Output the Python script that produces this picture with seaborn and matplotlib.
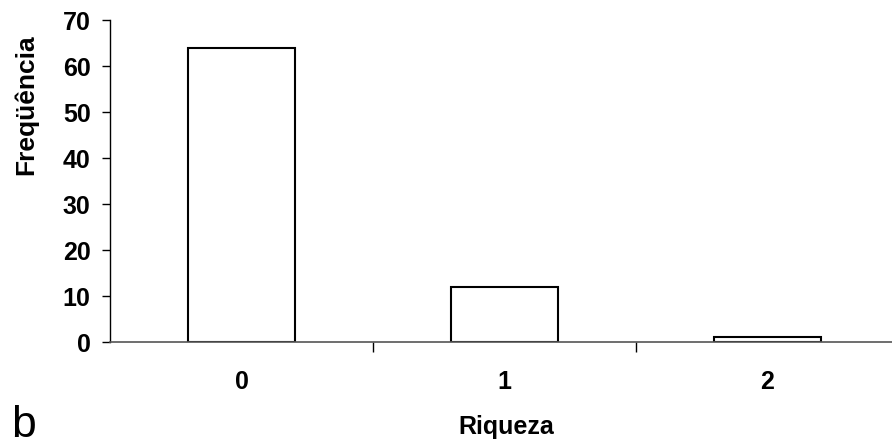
import numpy as np
import pandas as pd
import matplotlib
matplotlib.use("Agg")
import matplotlib.pyplot as plt
import seaborn as sns

# Data
categorias = ["0", "1", "2"]
frequencias = [64, 12, 1]

df = pd.DataFrame({"Riqueza": categorias, "Freq": frequencias})

sns.set_style("white")
plt.rcParams["font.family"] = ["Liberation Sans", "DejaVu Sans"]
plt.rcParams["text.color"] = "black"
plt.rcParams["xtick.color"] = "black"
plt.rcParams["ytick.color"] = "black"

fig = plt.figure(figsize=(8.92, 4.46), dpi=100)
ax = fig.add_axes([110 / 892, 1 - 342 / 446, 789 / 892, 322 / 446])

sns.barplot(data=df, x="Riqueza", y="Freq", order=categorias, color="white",
            edgecolor="black", linewidth=1.5, width=0.41, ax=ax)

ax.set_xlim(-0.5, 2.5)
ax.set_ylim(0, 70)
ax.set_yticks(np.arange(0, 71, 10))

# Excel style: ticks between categories
ax.set_xticks([0.5, 1.5], minor=True)
ax.tick_params(axis="x", which="major", length=0, pad=20, labelsize=18)
ax.tick_params(axis="x", which="minor", length=7, width=1, direction="out", bottom=True)
ax.tick_params(axis="y", length=6, width=1, direction="out", left=True, pad=8, labelsize=18)
for lab in ax.get_xticklabels() + ax.get_yticklabels():
    lab.set_fontweight("bold")

for s in ["top", "right"]:
    ax.spines[s].set_visible(False)
ax.spines["left"].set_color("black")
ax.spines["bottom"].set_color("#555555")
ax.spines["left"].set_linewidth(1)
ax.spines["bottom"].set_linewidth(1.2)

ax.set_xlabel("")
ax.set_ylabel("")
fig.text(26 / 892, 1 - 105 / 446, "Freqüência", fontsize=19, fontweight="bold",
         rotation=90, ha="center", va="center")
fig.text(506 / 892, 1 - 434 / 446, "Riqueza", fontsize=18, fontweight="bold",
         ha="center", va="baseline")
fig.text(11 / 892, 1 - 437 / 446, "b", fontsize=32, ha="left", va="baseline")

fig.savefig("out.png", dpi=100)
